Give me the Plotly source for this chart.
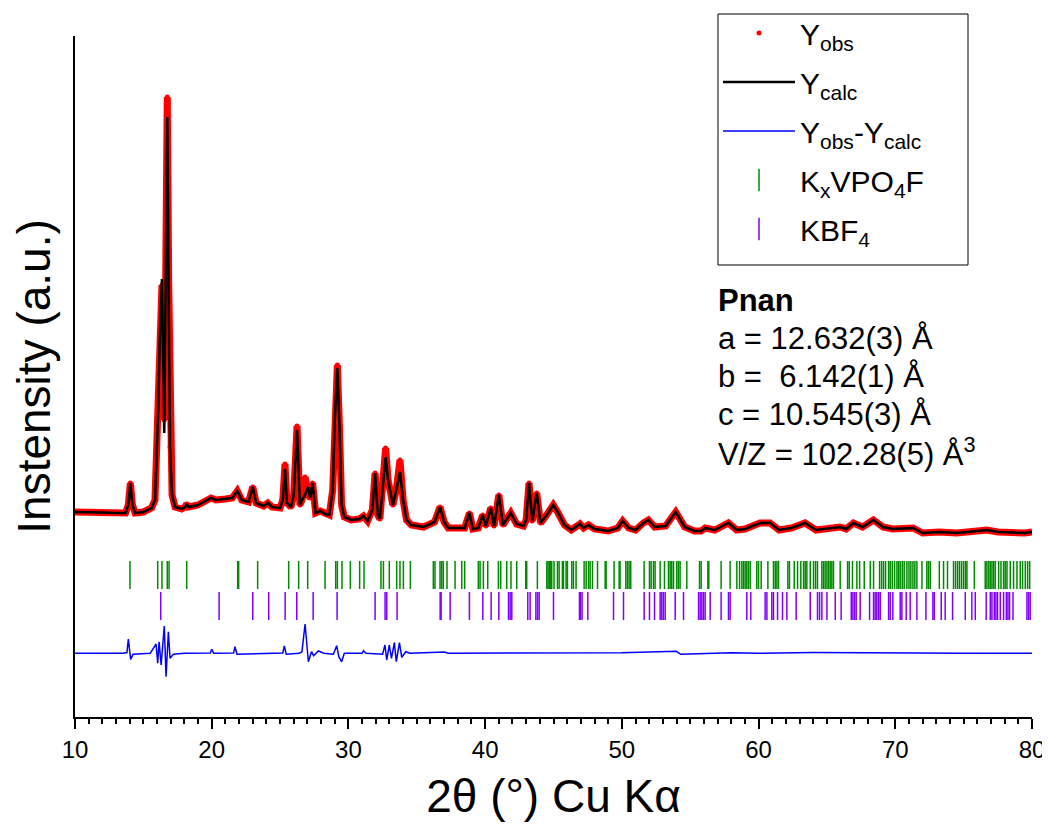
import plotly.graph_objects as go

# 2-theta grid (deg) and intensities (a.u.)
two_theta = [10.0, 11.0, 12.0, 13.0, 13.7, 13.9, 14.05, 14.2, 14.4, 15.0, 15.6, 15.85, 16.0, 16.09, 16.2,
             16.36, 16.45, 16.53, 16.62, 16.75, 16.85, 16.95, 17.1, 17.32, 17.8, 18.05, 18.17, 18.3, 19.0,
             19.95, 20.3, 21.0, 21.5, 21.87, 22.2, 22.7, 23.0, 23.25, 23.8, 24.1, 24.4, 25.0, 25.2, 25.36,
             25.5, 25.8, 26.0, 26.24, 26.45, 26.6, 26.83, 27.05, 27.2, 27.38, 27.6, 27.95, 28.3, 28.6, 28.85,
             29.0, 29.19, 29.35, 29.5, 29.7, 30.2, 30.8, 31.1, 31.4, 31.75, 31.95, 32.15, 32.3, 32.5, 32.72,
             32.9, 33.05, 33.25, 33.5, 33.77, 34.0, 34.25, 34.6, 35.5, 36.3, 36.7, 37.0, 37.3, 38.5, 38.85,
             39.1, 39.5, 39.82, 40.05, 40.41, 40.65, 41.0, 41.3, 41.87, 42.3, 42.8, 43.0, 43.21, 43.45, 43.77,
             44.05, 44.5, 44.98, 45.3, 45.8, 46.3, 46.94, 47.2, 47.56, 48.0, 49.0, 49.7, 50.06, 50.5, 51.0,
             51.57, 51.94, 52.4, 53.2, 53.94, 54.6, 55.3, 55.8, 56.09, 56.8, 57.79, 58.4, 59.0, 60.1, 60.84,
             61.5, 62.4, 63.4, 64.2, 65.96, 66.4, 66.94, 67.6, 68.4, 69.1, 69.8, 71.3, 72.0, 73.2, 74.5,
             76.7, 77.5, 79.5, 80.0]

y_calc = [205, 205, 204.5, 204, 204, 212, 234, 212, 204, 205, 209, 217, 277, 307, 377,
          438, 357, 284, 417, 600, 417, 270, 222, 210, 208, 210, 213, 210, 212,
          219, 217, 218, 219, 226, 217, 215, 230, 214, 211, 214, 210, 209, 217, 248,
          214, 210, 222, 287, 212, 217, 222, 230, 219, 234, 204, 206, 203, 202, 227,
          297, 349, 287, 212, 200, 197, 198, 201, 196, 207, 244, 202, 198, 227, 260,
          237, 227, 212, 227, 245, 217, 197, 192, 190, 195, 210, 195, 189, 189, 204,
          188, 189, 202, 191, 209, 191, 222, 192, 204, 193, 191, 197, 234, 196, 224,
          194, 202, 212, 205, 192, 187, 193, 189, 192, 188, 186, 189, 196, 189, 187,
          194, 197, 190, 191, 205, 190, 186, 186, 189, 187, 194, 187, 188, 194, 194,
          187, 189, 194, 187, 190, 188, 194, 190, 197, 190, 188, 189, 184, 185, 184,
          187, 185, 184, 185]

y_obs = [205, 205, 204.5, 204, 204, 212, 234, 212, 204, 205, 209, 217, 277, 307, 377,
         432, 357, 297, 417, 620, 437, 270, 222, 210, 208, 210, 213, 210, 212,
         219, 217, 218, 219, 226, 217, 215, 230, 214, 211, 214, 210, 209, 217, 253,
         214, 210, 222, 291, 212, 217, 240, 222, 219, 234, 204, 206, 203, 202, 227,
         297, 352, 287, 212, 200, 197, 198, 201, 196, 207, 244, 202, 198, 227, 269,
         237, 227, 212, 227, 257, 217, 197, 192, 190, 195, 210, 195, 189, 189, 204,
         188, 189, 202, 191, 209, 191, 222, 192, 204, 193, 191, 197, 234, 196, 224,
         194, 202, 212, 205, 192, 187, 193, 189, 192, 188, 186, 189, 196, 189, 187,
         194, 197, 190, 191, 205, 190, 186, 186, 189, 187, 194, 187, 188, 194, 194,
         187, 189, 194, 187, 190, 188, 194, 190, 197, 190, 188, 189, 184, 185, 184,
         187, 185, 184, 185]

# difference curve (offset below the pattern)
diff_theta = [10.0, 13.5, 13.8, 13.9, 14.07, 14.25, 15.5, 15.93, 16.05, 16.15, 16.3, 16.53, 16.66, 16.83,
              16.95, 17.2, 18.0, 19.9, 20.0, 20.15, 21.6, 21.7, 21.85, 25.2, 25.31, 25.45, 26.4, 26.6,
              26.83, 27.07, 27.3, 27.45, 27.8, 28.2, 28.9, 29.14, 29.3, 29.5, 29.7, 31.0, 31.1, 31.3,
              32.5, 32.67, 32.8, 32.99, 33.15, 33.36, 33.5, 33.73, 33.9, 34.2, 34.5, 37.0, 37.3, 40.0,
              44.0, 50.0, 54.0, 54.3, 58.0, 60.0, 64.0, 70.0, 75.0, 80.0]
y_diff = [63.7, 63.7, 64.5, 78, 57.7, 62.7, 63.7, 73, 53.7, 75.3, 52, 91, 40.3, 85.3,
          58.7, 62.7, 63.7, 64, 67.7, 63.7, 64, 70.3, 62.7, 64, 71, 62.7, 63.7, 65.3,
          93, 55.3, 65.3, 61.3, 66, 63.7, 62.7, 71.3, 60.3, 55.3, 63.7, 63.7, 66.3, 63.7,
          62.7, 72, 57, 72, 58.7, 74.3, 55.3, 74.3, 59.7, 65.3, 63.7, 65, 63.7, 63.7,
          63.7, 64.3, 65.7, 62.7, 64.3, 63.7, 64.5, 63.7, 63.7, 63.7]

# Bragg reflection positions (deg)
kxvpo4f_pos = [14.02, 16.05, 16.36, 16.75, 16.88, 18.17, 21.9, 21.97, 23.36, 25.63, 26.36, 27.02, 28.29,
               29.07, 29.19, 29.53, 30.14, 30.82, 31.14, 32.38, 32.56, 32.99, 33.53, 33.77, 34.02, 34.53,
               36.21, 36.33, 36.7, 36.82, 36.94, 37.21, 37.8, 38.29, 38.5, 39.5, 39.63, 39.87, 40.19,
               40.97, 41.14, 41.58, 41.89, 42.31, 42.97, 43.04, 43.82, 44.51, 44.6, 44.7, 44.8, 44.87,
               45.04, 45.29, 45.41, 45.65, 45.73, 45.92, 46.02, 46.34, 46.46, 46.65, 47.24, 47.39, 47.56,
               47.68, 47.85, 48.22, 48.78, 48.85, 49.43, 49.8, 49.87, 50.29, 50.41, 50.53, 50.65, 51.63,
               52.02, 52.14, 52.31, 52.43, 52.8, 53.12, 53.41, 53.53, 53.65, 53.78, 54.02, 54.14, 54.26,
               54.75, 55.68, 55.8, 56.29, 56.36, 57.26, 57.92, 58.41, 58.61, 58.78, 58.9, 59.02, 59.14,
               59.26, 59.39, 59.87, 60.0, 60.19, 60.68, 61.09, 61.22, 61.34, 61.46, 62.14, 62.26, 62.61,
               62.85, 63.09, 63.29, 63.41, 63.53, 63.78, 64.02, 64.17, 64.31, 64.63, 64.75, 64.87, 65.0,
               65.12, 65.24, 65.36, 65.48, 65.97, 66.51, 66.63, 66.87, 67.19, 67.39, 67.73, 68.17, 68.41,
               68.85, 69.0, 69.14, 69.29, 69.51, 69.63, 69.78, 69.95, 70.12, 70.24, 70.36, 70.51, 70.65,
               70.85, 71.0, 71.14, 71.29, 71.43, 71.58, 71.95, 72.31, 72.43, 72.56, 73.22, 73.53, 73.82,
               74.26, 74.41, 74.56, 74.7, 74.85, 75.0, 75.14, 75.24, 75.78, 76.58, 76.7, 76.83, 76.95,
               77.07, 77.19, 77.31, 77.56, 77.73, 77.92, 78.04, 78.17, 78.41, 78.65, 78.9, 79.14, 79.31,
               79.51, 79.68, 79.83]

kbf4_pos = [16.27, 20.54, 23.0, 24.17, 25.37, 26.22, 27.42, 29.17, 31.95, 32.68, 32.8, 33.56, 36.71, 36.78,
            37.44, 38.85, 39.83, 40.44, 41.0, 41.71, 41.83, 41.95, 43.12, 43.29, 43.71, 43.83, 43.95, 45.0,
            46.9, 46.96, 47.09, 47.51, 49.39, 50.12, 51.63, 52.02, 52.39, 52.8, 52.92, 53.04, 53.17, 53.9,
            54.51, 55.61, 55.73, 55.85, 55.97, 56.09, 56.46, 57.26, 57.8, 57.92, 59.14, 59.43, 60.48, 60.61,
            60.97, 61.09, 61.39, 61.75, 62.07, 62.75, 63.78, 64.31, 64.46, 64.63, 65.0, 65.61, 66.04, 66.78,
            66.9, 67.02, 67.14, 67.43, 68.12, 68.41, 68.53, 68.65, 68.78, 68.9, 69.51, 69.63, 69.82, 70.36,
            70.48, 70.8, 71.09, 71.58, 72.24, 72.75, 72.85, 73.36, 73.65, 74.19, 75.12, 75.6, 75.85, 76.65,
            76.95, 77.07, 77.24, 77.36, 77.48, 77.68, 77.92, 78.12, 78.24, 78.36, 78.61, 79.63, 79.75, 79.87]

kxvpo4f_level = 142
kbf4_level = 111

cell_lines = ["<b>Pnan</b>", "a = 12.632(3) Å", "b = \u00a06.142(1) Å", "c = 10.545(3) Å",
              "V/Z = 102.28(5) Å<sup>3</sup>"]

FONT = "Liberation Sans, Arial, sans-serif"

# the page body adds an 8 px margin; the figure is sized so the plot lands where the reference has it
W, H = 1042, 820
PX0, PX1, PY0, PY1 = 75, 1032, 36, 717      # plot area in page pixels


def px2paper_x(px):
    return (px - PX0) / (PX1 - PX0)


def px2paper_y(py):
    return (PY1 - py) / (PY1 - PY0)


fig = go.Figure()

# dense observed band (same data, no legend)
fig.add_trace(go.Scatter(x=two_theta, y=y_obs, mode="lines", line=dict(color="#ff0000", width=7),
                         showlegend=False, hoverinfo="skip"))
fig.add_trace(go.Scatter(x=two_theta, y=y_obs, mode="markers", name="Y<sub>obs</sub>",
                         legendgroup="a", marker=dict(color="#ff0000", size=5)))
fig.add_trace(go.Scatter(x=two_theta, y=y_calc, mode="lines", name="Y<sub>calc</sub>",
                         legendgroup="b", line=dict(color="#000000", width=2.5)))
fig.add_trace(go.Scatter(x=diff_theta, y=y_diff, mode="lines", name="Y<sub>obs</sub>-Y<sub>calc</sub>",
                         legendgroup="c", line=dict(color="#0000ff", width=1.5)))
fig.add_trace(go.Scatter(x=kxvpo4f_pos, y=[kxvpo4f_level] * len(kxvpo4f_pos), mode="markers",
                         name="K<sub>x</sub>VPO<sub>4</sub>F", legendgroup="d",
                         marker=dict(symbol="line-ns", size=20, line=dict(color="#008a00", width=1.5))))
fig.add_trace(go.Scatter(x=kbf4_pos, y=[kbf4_level] * len(kbf4_pos), mode="markers",
                         name="KBF<sub>4</sub>", legendgroup="e",
                         marker=dict(symbol="line-ns", size=20, line=dict(color="#8000ff", width=1.5))))

fig.update_layout(
    width=W, height=H,
    margin=dict(l=PX0 - 8, r=W - (PX1 - 8), t=PY0 - 8, b=H - (PY1 - 8), autoexpand=False),
    paper_bgcolor="white", plot_bgcolor="white",
    font=dict(family=FONT, color="black"),
    showlegend=True,
    legend=dict(x=px2paper_x(718), y=px2paper_y(7), xanchor="left", yanchor="top",
                borderwidth=0, bgcolor="rgba(0,0,0,0)",
                font=dict(size=30, family=FONT), itemwidth=72,
                traceorder="grouped", tracegroupgap=7),
    xaxis=dict(range=[10, 80], dtick=10, tick0=10, showgrid=False, zeroline=False,
               showline=True, linecolor="black", linewidth=2, automargin=False,
               ticks="outside", ticklen=10, tickwidth=2, tickcolor="black",
               tickfont=dict(size=24, family=FONT),
               minor=dict(dtick=1, ticks="outside", ticklen=5, tickwidth=1.5, tickcolor="black"),
               title=dict(text="2θ (°) Cu Kα", font=dict(size=46, family=FONT), standoff=18)),
    yaxis=dict(range=[0, 681], showgrid=False, zeroline=False, showticklabels=False,
               showline=True, linecolor="black", linewidth=2, ticks="", automargin=False,
               title=dict(text="Instensity (a.u.)", font=dict(size=46, family=FONT), standoff=15)),
)

# legend frame
fig.add_shape(type="rect", xref="paper", yref="paper",
              x0=px2paper_x(718), x1=px2paper_x(968), y0=px2paper_y(265), y1=px2paper_y(14),
              line=dict(color="black", width=1), fillcolor="rgba(0,0,0,0)", layer="above")

for i, line_text in enumerate(cell_lines):
    fig.add_annotation(xref="paper", yref="paper", x=px2paper_x(716), y=px2paper_y(300 + 38 * i),
                       xanchor="left", yanchor="middle", align="left", showarrow=False,
                       font=dict(size=31, family=FONT, color="black"), text=line_text)

fig.write_html("out.html")
